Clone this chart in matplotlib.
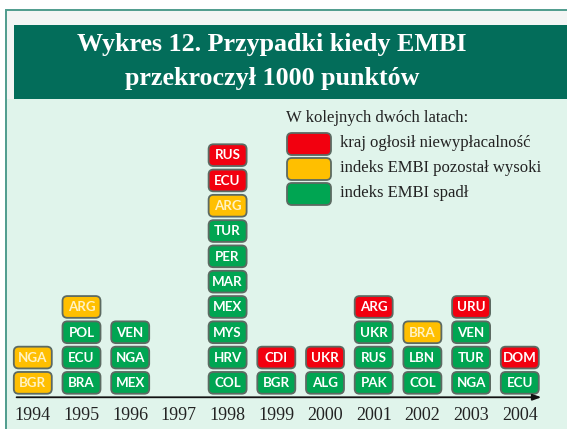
import matplotlib.pyplot as plt
from matplotlib.patches import FancyBboxPatch, Rectangle

# data: countries per year, listed bottom to top, with status code
years = ["1994", "1995", "1996", "1997", "1998", "1999", "2000", "2001", "2002", "2003", "2004"]
countries = [
    ["BGR", "NGA"],
    ["BRA", "ECU", "POL", "ARG"],
    ["MEX", "NGA", "VEN"],
    [],
    ["COL", "HRV", "MYS", "MEX", "MAR", "PER", "TUR", "ARG", "ECU", "RUS"],
    ["BGR", "CDI"],
    ["ALG", "UKR"],
    ["PAK", "RUS", "UKR", "ARG"],
    ["COL", "LBN", "BRA"],
    ["NGA", "TUR", "VEN", "URU"],
    ["ECU", "DOM"],
]
status = [
    ["o", "o"],
    ["g", "g", "g", "o"],
    ["g", "g", "g"],
    [],
    ["g", "g", "g", "g", "g", "g", "g", "o", "r", "r"],
    ["g", "r"],
    ["g", "r"],
    ["g", "g", "g", "r"],
    ["g", "g", "o"],
    ["g", "g", "g", "r"],
    ["g", "r"],
]
legend_labels = ["kraj ogłosił niewypłacalność",
                 "indeks EMBI pozostał wysoki",
                 "indeks EMBI spadł"]

fill = {"r": "#f2000f", "o": "#ffbf00", "g": "#00a552"}
txt_col = {"r": "#ffffff", "o": "#fff2c2", "g": "#ffffff"}
edge = "#5c6a62"

W, H = 567, 429
fig = plt.figure(figsize=(W / 100, H / 100), dpi=100)
fig.patch.set_facecolor("white")


def fr(x, y):
    # pixel (from top-left) -> figure fraction
    return x / W, 1 - y / H


# frame and backgrounds
fig.patches.extend([
    Rectangle(fr(6, 440), 600 / W, 430 / H, transform=fig.transFigure, figure=fig,
              facecolor="#f3f5f4", edgecolor="#4f9c8d", lw=1.4, zorder=-10),
    Rectangle(fr(7, 429), 570 / W, 330 / H, transform=fig.transFigure, figure=fig,
              facecolor="#e0f4eb", edgecolor="none", zorder=-9),
    Rectangle(fr(14, 99), 560 / W, 74 / H, transform=fig.transFigure, figure=fig,
              facecolor="#036d5a", edgecolor="none", zorder=-9),
])

serif = ["Liberation Serif", "DejaVu Serif"]
fig.text(*fr(272, 45), "Wykres 12. Przypadki kiedy EMBI", ha="center", va="center",
         color="white", fontsize=18.7, fontweight="bold", family=serif)
fig.text(*fr(272, 78), "przekroczył 1000 punktów", ha="center", va="center",
         color="white", fontsize=18.7, fontweight="bold", family=serif)

# chart axes: x = year index, y = stack row
ax = fig.add_axes([7 / W, 0, 560 / W, 330 / H])
ax.set_axis_off()
ax.patch.set_alpha(0)
x0, dx = 32.8, 48.7      # px of 1994 centre, px per year
y0, dy = 395.5, 25.3     # px of row 0 bottom, px per row
ax.set_xlim((7 - x0) / dx, (567 - x0) / dx)
ax.set_ylim(-(429 - y0) / dy, (y0 - 99) / dy)
asp = dx / dy

for i, (col, st) in enumerate(zip(countries, status)):
    for j, (c, s) in enumerate(zip(col, st)):
        ax.add_patch(FancyBboxPatch((i - 0.39, j + 0.07), 0.78, 0.86,
                                    boxstyle="round,pad=0,rounding_size=0.1",
                                    mutation_aspect=asp, facecolor=fill[s],
                                    edgecolor=edge, lw=1.3))
        ax.text(i, j + 0.49, c, ha="center", va="center", color=txt_col[s],
                fontsize=9.6, fontweight="bold", family=["Lato", "DejaVu Sans"])
    ax.text(i, -0.78, years[i], ha="center", va="center", color="#222222",
            fontsize=13, family=serif)

# x axis line with arrow
ax.annotate("", xy=(10.5, -0.07), xytext=(-0.39, -0.07),
            arrowprops=dict(arrowstyle="-|>,head_length=0.5,head_width=0.18",
                            color="#111111", lw=1.3))


# legend
def d(x, y):
    return (x - x0) / dx, (y0 - y) / dy


ax.text(*d(286, 118), "W kolejnych dwóch latach:", ha="left", va="center",
        color="#222222", fontsize=12, family=serif)
for k, s in enumerate(["r", "o", "g"]):
    top = 133 + k * 25
    bx, by = d(287, top + 22)
    ax.add_patch(FancyBboxPatch((bx, by), 44 / dx, 22 / dy,
                                boxstyle="round,pad=0,rounding_size=0.1",
                                mutation_aspect=asp, facecolor=fill[s],
                                edgecolor=edge, lw=1.3))
    ax.text(*d(340, top + 10), legend_labels[k], ha="left", va="center",
            color="#222222", fontsize=12, family=serif)

fig.savefig("out.png", dpi=100)
